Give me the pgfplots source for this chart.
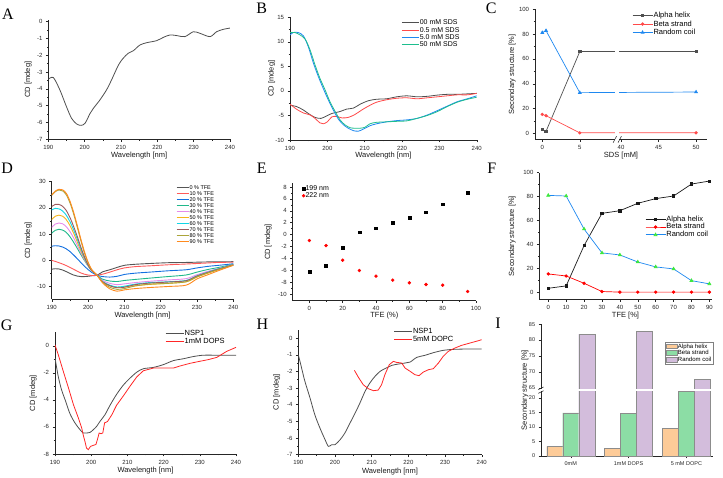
\documentclass[border=0pt]{standalone}
\usepackage{pgfplots}
\pgfplotsset{compat=1.18}
\usepackage{pgfplotstable}
\usepackage{fontspec}
\setmainfont{Liberation Sans}
\newfontfamily\letterfont{Liberation Serif}

\definecolor{cgray}{HTML}{4F4F4F}
\definecolor{cred}{HTML}{FF4A4A}
\definecolor{cblue}{HTML}{1E88F0}
\definecolor{cgreen}{HTML}{1DBE8E}
\definecolor{d0}{HTML}{555555}
\definecolor{d10}{HTML}{FF5A5A}
\definecolor{d20}{HTML}{1370E0}
\definecolor{d30}{HTML}{1FB88A}
\definecolor{d40}{HTML}{E58BEA}
\definecolor{d50}{HTML}{F6B41A}
\definecolor{d60}{HTML}{12D6E6}
\definecolor{d70}{HTML}{9C5B5E}
\definecolor{d80}{HTML}{ABA53A}
\definecolor{d90}{HTML}{FF8A1E}
\definecolor{calpha}{HTML}{FDCB98}
\definecolor{cbeta}{HTML}{8CDDA5}
\definecolor{crand}{HTML}{D3BDDC}
\definecolor{ctri}{HTML}{3EE83E}

\pgfplotsset{
  panel/.style={
    scale only axis, anchor=south west,
    axis x line*=bottom, axis y line*=left,
    axis line style={-, line width=0.5pt, black!85},
    tick align=outside, major tick length=2.4pt, minor tick length=1.3pt,
    every tick/.style={black!85, line width=0.4pt},
    tick label style={font=\fontsize{6}{6}\selectfont, black!85},
    label style={font=\fontsize{7.5}{8}\selectfont, black!90},
    /pgf/number format/assume math mode=true,
    legend cell align=left,
    legend style={draw=none, fill=none, anchor=north west, inner sep=0pt,
      font=\fontsize{7}{7}\selectfont,
      nodes={inner sep=0.5pt, text height=5pt, text depth=1.3pt}},
  },
  % label offsets from the axis lines, in pt
  labs/.style 2 args={
    xlabel style={at={([yshift=-#1pt]axis description cs:0.5,0)}, anchor=center},
    ylabel style={at={([xshift=-#2pt]axis description cs:0,0.5)}, anchor=center}},
  legline/.style={legend image code/.code={\draw[##1, line width=1pt] (0pt,0pt) -- (#1,0pt);}},
  legmark/.style={legend image code/.code={\draw[##1,mark repeat=2,mark phase=2] plot coordinates {(0pt,0pt) (10pt,0pt) (20pt,0pt)};}},
}

\pgfplotstableread{
x t0 t10 t20 t30 t40 t50 t60 t70 t80 t90
190 -3.5 -0.1 5.3 10.3 12.5 15.5 19.2 20.5 24.8 24.9
191 -3.3 -0.5 5.5 11.4 13.8 16.8 19.8 21.3 26.2 26.4
192 -3.4 -1.0 5.4 11.8 14.2 17.2 19.6 21.3 26.8 27.1
193 -3.8 -1.5 5.0 11.5 13.9 16.8 18.8 20.6 26.5 26.9
194 -4.4 -2.1 4.3 10.6 12.8 15.5 17.2 19.0 25.0 25.6
195 -5.1 -2.8 3.3 9.0 11.0 13.3 14.8 16.4 22.0 22.7
196 -5.7 -3.5 2.0 6.9 8.6 10.4 11.7 13.0 17.8 18.5
197 -6.1 -4.2 0.6 4.6 5.8 7.1 8.2 9.2 12.8 13.5
198 -6.3 -4.9 -0.9 2.2 2.9 3.7 4.5 5.1 7.6 8.2
199 -6.3 -5.4 -2.3 -0.1 0.2 0.6 1.0 1.3 2.8 3.3
200 -6.2 -5.7 -3.6 -2.2 -2.2 -2.0 -1.9 -1.8 -1.0 -0.7
201 -6.0 -5.9 -4.7 -4.0 -4.1 -4.0 -4.0 -4.0 -3.7 -3.6
202.5 -5.8 -5.8 -5.8 -5.8 -5.8 -5.8 -5.8 -5.8 -5.8 -5.8
204 -4.5 -5.4 -6.3 -7.3 -7.8 -8.3 -8.2 -8.3 -8.5 -8.7
206 -3.7 -4.6 -6.5 -8.0 -8.9 -9.8 -9.6 -9.8 -10.4 -11.0
208 -2.8 -3.7 -6.2 -8.2 -9.4 -10.5 -10.3 -10.6 -11.2 -11.9
210 -2.0 -3.0 -5.5 -7.8 -9.1 -10.2 -10.0 -10.4 -10.9 -11.4
213 -1.6 -2.5 -5.0 -7.4 -8.6 -9.8 -9.2 -9.4 -9.9 -10.9
217 -1.3 -2.2 -4.6 -6.9 -8.1 -9.3 -8.6 -8.8 -9.2 -10.5
222 -1.0 -1.8 -4.1 -6.3 -7.6 -8.9 -8.3 -8.4 -8.9 -10.1
227 -0.9 -1.5 -3.7 -5.7 -7.1 -8.3 -7.8 -7.9 -8.3 -9.6
230 -0.8 -1.3 -3.0 -4.6 -5.6 -6.5 -6.0 -6.1 -6.4 -7.2
233 -0.7 -1.1 -2.4 -3.6 -4.3 -5.0 -4.6 -4.7 -4.9 -5.6
236 -0.7 -0.9 -2.0 -2.8 -3.2 -3.6 -3.3 -3.4 -3.6 -4.0
240 -0.6 -0.8 -1.4 -1.6 -1.7 -1.9 -1.8 -1.8 -1.9 -2.0
}\tblD

\begin{document}
\begin{tikzpicture}[x=1pt,y=1pt]
\useasboundingbox (0pt,0pt) rectangle (723pt,478pt);

% panel letters
\begin{scope}[every node/.style={font=\letterfont\fontsize{16}{16}\selectfont}]
\node at (8pt,463.3pt) {A};
\node at (261.7pt,470pt) {B};
\node at (491.3pt,469.3pt) {C};
\node at (7.2pt,310pt) {D};
\node at (261.7pt,310pt) {E};
\node at (491.7pt,310pt) {F};
\node at (6.7pt,153pt) {G};
\node at (262.5pt,154pt) {H};
\node at (498pt,155pt) {I};
\end{scope}

% ---------- A ----------
\begin{axis}[panel, at={(48.3pt,338.7pt)}, width=181.7pt, height=119.3pt,
  labs={16}{20},
  xmin=190, xmax=240, ymin=-7, ymax=0.1,
  xtick={190,200,...,240}, minor x tick num=1,
  ytick={-7,-6,...,0}, minor y tick num=1,
  xlabel={Wavelength [nm]}, ylabel={CD [mdeg]}]
\addplot[cgray, line width=0.8pt, smooth] coordinates {
(190,-3.43)(191.4,-3.33)(193.2,-4.07)(195,-5.06)(196.4,-5.75)(197.8,-6.09)(199,-6.17)(200.1,-6.05)(201.5,-5.46)(202.4,-5.16)(204.2,-4.66)(206,-4.07)(207.4,-3.47)(209.3,-2.58)(210.6,-2.18)(212,-1.88)(213.4,-1.73)(215.2,-1.39)(217.1,-1.25)(219.8,-1.13)(221.7,-0.93)(223.5,-0.79)(225.4,-0.83)(227.6,-0.89)(229.9,-0.6)(231.7,-0.69)(234.5,-0.89)(236.3,-0.6)(238.1,-0.46)(240,-0.38)};
\end{axis}

% ---------- B ----------
\begin{axis}[panel, at={(290pt,338pt)}, width=186.7pt, height=122.7pt,
  labs={15.3}{18.3},
  xmin=190, xmax=240, ymin=-10, ymax=15,
  xtick={190,200,...,240}, minor x tick num=1,
  ytick={-10,-5,...,15}, minor y tick num=1,
  xlabel={Wavelength [nm]}, ylabel={CD [mdeg]},
  legline=17pt,
  legend style={at={(0.595,0.985)}}]
\addplot[cgray, line width=0.8pt, smooth] coordinates {
(190,-2.9)(191.8,-3.2)(193.6,-3.9)(194.9,-4.6)(196.7,-5.4)(198.3,-5.6)(199.8,-5.1)(201.2,-4.6)(203.4,-4.2)(205.2,-3.7)(207,-3.5)(208.8,-2.7)(211,-2.0)(213.2,-1.7)(215.9,-1.6)(218.6,-1.2)(221.3,-1.0)(224,-1.2)(226.8,-1.1)(229.5,-0.85)(232.1,-0.7)(234.8,-0.7)(237.5,-0.6)(240,-0.5)};
\addlegendentry{00 mM SDS}
\addplot[cred, line width=0.8pt, smooth] coordinates {
(190,-2.7)(191.8,-3.75)(193.6,-4.5)(195.4,-4.9)(196.7,-5.6)(198,-6.5)(198.9,-6.7)(200,-6.3)(201.2,-5.3)(202.5,-5.2)(203.9,-5.5)(205.6,-5.4)(207.4,-4.8)(209.2,-3.9)(211,-3.1)(213.2,-2.3)(215.9,-1.8)(218.6,-1.5)(221.3,-1.4)(224,-1.6)(226.8,-1.4)(229.5,-1.2)(232.1,-1.0)(234.8,-0.8)(237.5,-0.8)(240,-0.5)};
\addlegendentry{0.5 mM SDS}
\addplot[cblue, line width=0.8pt, smooth] coordinates {
(190,11.4)(190.9,11.9)(192.2,11.9)(193.6,11.2)(194.9,9.0)(196.3,5.6)(197.6,2.9)(198.9,0.5)(200.3,-1.9)(201.6,-3.9)(203,-5.8)(204.3,-6.9)(205.6,-7.6)(207,-8.1)(208.3,-8.2)(209.6,-7.8)(211.4,-7.1)(213.2,-6.7)(215.9,-6.3)(218.6,-6.05)(221.3,-5.9)(224,-5.6)(226.8,-4.9)(229.5,-4.0)(232.1,-3.1)(234.8,-2.2)(237.5,-1.6)(240,-1.0)};
\addlegendentry{5.0 mM SDS}
\addplot[cgreen, line width=0.8pt, smooth] coordinates {
(190,11.9)(191.3,11.9)(192.7,11.4)(194.1,10.5)(195.4,8.3)(196.7,5.3)(198,2.6)(199.4,0.2)(200.7,-2.2)(202.1,-4.2)(203.4,-5.9)(204.7,-6.9)(206.1,-7.5)(207.4,-7.6)(208.8,-7.6)(210.1,-7.4)(211.4,-6.7)(213.2,-6.4)(215.9,-6.3)(218.6,-6.2)(221.3,-6.1)(224,-5.6)(226.8,-5.0)(229.5,-4.2)(232.1,-3.2)(234.8,-2.3)(237.5,-1.7)(240,-1.3)};
\addlegendentry{50 mM SDS}
\end{axis}

% ---------- C ----------
\begin{axis}[panel, at={(535pt,338.7pt)}, width=172pt, height=130pt,
  labs={16}{22.7},
  xmin=-0.97, xmax=21.96, ymin=-4.8, ymax=100,
  x filter/.expression={x>30 ? x-29.5 : x},
  xtick={0,5,10.5,15.5,20.5}, xticklabels={0,5,40,45,50},
  ytick={0,20,...,100}, minor y tick num=1,
  xlabel={SDS [mM]}, ylabel={Secondary structure [\%]},
  clip=false, legmark,
  legend style={at={(0.564,0.985)}, font=\fontsize{7.5}{7.5}\selectfont,
    nodes={inner sep=0.6pt, text height=5.6pt, text depth=1.6pt}}]
\addplot[cgray, line width=0.7pt, mark=square*, mark size=1.2pt] coordinates {(0,3)(0.5,1.6)(5,65.9)(50,65.9)};
\addlegendentry{Alpha helix}
\addplot[cred, line width=0.7pt, mark=*, mark size=1.3pt] coordinates {(0,15.3)(0.5,14.2)(5,0.4)(50,0.4)};
\addlegendentry{Beta strand}
\addplot[cblue, line width=0.7pt, mark=triangle*, mark size=1.6pt] coordinates {(0,81.2)(0.5,82.8)(5,32.8)(50,33.3)};
\addlegendentry{Random coil}
\fill[white] (axis cs:9.75,-6) rectangle (axis cs:10.25,101);
\draw[black!85, line width=0.5pt] (axis cs:9.45,-7.5) -- (axis cs:9.9,-2.3);
\draw[black!85, line width=0.5pt] (axis cs:10.1,-7.5) -- (axis cs:10.55,-2.3);
\end{axis}

% ---------- D ----------
\begin{axis}[panel, at={(51.7pt,178.7pt)}, width=181.6pt, height=117.6pt,
  labs={16}{23.4},
  xmin=190, xmax=240, ymin=-15, ymax=30,
  xtick={190,200,...,240}, minor x tick num=1,
  ytick={-10,0,...,30}, minor y tick num=1,
  xlabel={Wavelength [nm]}, ylabel={CD [mdeg]},
  legline=12pt,
  legend style={at={(0.684,0.975)}, font=\fontsize{5.5}{5.5}\selectfont,
    nodes={inner sep=0.4pt, text height=4pt, text depth=1.2pt}}]
\addplot[d0, line width=0.9pt, smooth] table[x=x, y=t0] {\tblD};
\addlegendentry{0 \% TFE}
\addplot[d10, line width=0.9pt, smooth] table[x=x, y=t10] {\tblD};
\addlegendentry{10 \% TFE}
\addplot[d20, line width=0.9pt, smooth] table[x=x, y=t20] {\tblD};
\addlegendentry{20 \% TFE}
\addplot[d30, line width=0.9pt, smooth] table[x=x, y=t30] {\tblD};
\addlegendentry{30 \% TFE}
\addplot[d40, line width=0.9pt, smooth] table[x=x, y=t40] {\tblD};
\addlegendentry{40 \% TFE}
\addplot[d50, line width=0.9pt, smooth] table[x=x, y=t50] {\tblD};
\addlegendentry{50 \% TFE}
\addplot[d60, line width=0.9pt, smooth] table[x=x, y=t60] {\tblD};
\addlegendentry{60 \% TFE}
\addplot[d70, line width=0.9pt, smooth] table[x=x, y=t70] {\tblD};
\addlegendentry{70 \% TFE}
\addplot[d80, line width=0.9pt, smooth] table[x=x, y=t80] {\tblD};
\addlegendentry{80 \% TFE}
\addplot[d90, line width=0.9pt, smooth] table[x=x, y=t90] {\tblD};
\addlegendentry{90 \% TFE}
\end{axis}

% ---------- E ----------
\begin{axis}[panel, at={(292.7pt,177.3pt)}, width=183.3pt, height=117.3pt,
  labs={14.6}{24.4},
  xmin=-10, xmax=100, ymin=-11.1, ymax=8.6,
  xtick={0,20,...,100}, minor x tick num=1,
  ytick={-10,-8,...,8}, minor y tick num=1,
  xlabel={TFE (\%)}, ylabel={CD [mdeg]},
  legend image code/.code={\draw[#1,mark repeat=2,mark phase=2] plot coordinates {(0pt,0pt) (4pt,0pt) (8pt,0pt)};},
  legend style={at={(0.05,0.99)}}]
\addplot[only marks, mark=square*, mark size=1.4pt, black] coordinates {
(0,-6.25)(10,-5.19)(20,-2.23)(30,0.40)(40,1.07)(50,1.96)(60,2.86)(70,3.75)(80,5.09)(95,7.1)};
\addlegendentry{199 nm}
\addplot[only marks, mark=*, mark size=1.5pt, red] coordinates {
(0,-1.0)(10,-1.84)(20,-4.3)(30,-6.03)(40,-6.98)(50,-7.65)(60,-8.1)(70,-8.38)(80,-8.49)(95,-9.55)};
\addlegendentry{222 nm}
\end{axis}

% ---------- F ----------
\begin{axis}[panel, at={(539.3pt,178.7pt)}, width=172.4pt, height=126.6pt,
  labs={16}{27},
  xmin=-5, xmax=91.3, ymin=-5.9, ymax=100,
  xtick={0,10,...,90},
  ytick={0,20,...,100}, minor y tick num=1,
  xlabel={TFE [\%]}, ylabel={Secondary structure [\%]},
  legmark,
  legend style={at={(0.613,0.665)}, font=\fontsize{7.5}{7.5}\selectfont,
    nodes={inner sep=0.5pt, text height=5.3pt, text depth=1.5pt}}]
\addplot[black!90, line width=0.7pt, mark=square*, mark size=1.2pt] coordinates {
(0,3.3)(10,5.3)(20,39)(30,66)(40,68.2)(50,74.4)(60,78.3)(70,80.5)(80,90.5)(90,93)};
\addlegendentry{Alpha helix}
\addplot[red, line width=0.7pt, mark=*, mark size=1.3pt] coordinates {
(0,15.3)(10,13.6)(20,7.5)(30,0.6)(40,0.1)(50,0.1)(60,0.1)(70,0.1)(80,0.1)(90,0.1)};
\addlegendentry{Beta strand}
\addplot[cblue, line width=0.7pt, mark=triangle*, mark size=1.7pt, mark options={fill=ctri, draw=ctri}] coordinates {
(0,81)(10,80.5)(20,52.9)(30,32.9)(40,31.2)(50,25.3)(60,21.2)(70,19.5)(80,9.7)(90,7)};
\addlegendentry{Random coil}
\end{axis}

% ---------- G ----------
\begin{axis}[panel, at={(55pt,24pt)}, width=181pt, height=121.8pt,
  labs={16.7}{21.7},
  xmin=190, xmax=240, ymin=-8, ymax=1,
  xtick={190,200,...,240}, minor x tick num=1,
  ytick={-8,-6,...,0}, minor y tick num=1,
  xlabel={Wavelength [nm]}, ylabel={CD [mdeg]},
  legline=18pt,
  legend style={at={(0.608,1.02)}, font=\fontsize{7.5}{7.5}\selectfont,
    nodes={inner sep=0.5pt, text height=5.3pt, text depth=1.5pt}}]
\addplot[cgray, line width=0.8pt, smooth] coordinates {
(190,-0.9)(190.9,-2.27)(191.8,-3.25)(192.8,-4.0)(194.1,-5.0)(195.5,-5.7)(196.9,-6.2)(197.8,-6.45)(198.6,-6.45)(199.7,-6.4)(200.6,-6.2)(201.5,-5.96)(202.4,-5.6)(203.8,-5.1)(205.2,-4.4)(207,-3.6)(208.9,-2.9)(210.7,-2.4)(212.6,-1.95)(214.4,-1.7)(217.2,-1.6)(219.9,-1.4)(222.7,-1.1)(225.5,-0.96)(228.2,-0.8)(231,-0.7)(234.7,-0.7)(237.4,-0.7)(240,-0.7)};
\addlegendentry{NSP1}
\addplot[red!85, line width=0.8pt] coordinates {
(190,0.07)(190.9,-0.66)(192.3,-1.9)(193.7,-3.1)(195.1,-4.36)(196.4,-5.3)(197.4,-6.1)(197.8,-6.6)(198.3,-7.1)(198.7,-7.56)(199.2,-7.68)(199.8,-7.44)(200.6,-7.36)(201.3,-7.3)(201.7,-6.95)(202.2,-6.45)(202.7,-6.5)(203.2,-6.45)(203.7,-5.7)(204.5,-5.6)(205.7,-5.1)(207,-4.4)(208.9,-3.7)(210.7,-3.0)(212.6,-2.3)(214.4,-1.85)(217.2,-1.65)(219.9,-1.65)(222.7,-1.65)(224.5,-1.5)(227.3,-1.3)(230,-1.15)(232.3,-1.03)(234.7,-0.86)(237.4,-0.42)(240,-0.12)};
\addlegendentry{1mM DOPS}
\end{axis}

% ---------- H ----------
\begin{axis}[panel, at={(298.3pt,23.3pt)}, width=183.4pt, height=125pt,
  labs={17.3}{21.6},
  xmin=190, xmax=240, ymin=-7, ymax=0.5,
  xtick={190,200,...,240}, minor x tick num=1,
  ytick={-7,-6,...,0}, minor y tick num=1,
  xlabel={Wavelength [nm]}, ylabel={CD [mdeg]},
  legline=18pt,
  legend style={at={(0.518,1.015)}, font=\fontsize{7.5}{7.5}\selectfont,
    nodes={inner sep=0.5pt, text height=5.3pt, text depth=1.5pt}}]
\addplot[cgray, line width=0.8pt, smooth] coordinates {
(190,-1.0)(190.9,-1.8)(191.8,-2.6)(193.2,-3.6)(194.5,-4.6)(195.9,-5.4)(197.3,-6.1)(198.2,-6.5)(199.1,-6.4)(200,-6.4)(201.4,-6.1)(202.7,-5.7)(204.1,-5.1)(205.5,-4.5)(206.8,-3.9)(208.2,-3.2)(209.5,-2.7)(210.9,-2.3)(212.3,-2.0)(213.6,-1.84)(215.5,-1.64)(217.3,-1.56)(219.1,-1.5)(220.5,-1.44)(222.3,-1.16)(224.5,-1.04)(226.8,-0.88)(229.5,-0.74)(232.3,-0.68)(235.9,-0.66)(240,-0.66)};
\addlegendentry{NSP1}
\addplot[red!85, line width=0.8pt] coordinates {
(205.3,-1.94)(206.4,-2.36)(207.7,-2.8)(209.1,-3.04)(210.5,-3.16)(211.8,-3.12)(212.7,-2.8)(213.6,-2.2)(214.8,-1.6)(215.9,-1.4)(216.8,-1.46)(218.2,-1.5)(219.1,-1.8)(220.5,-2.0)(221.8,-2.2)(222.9,-2.26)(224.1,-2.04)(225.5,-1.9)(226.8,-1.84)(228.2,-1.5)(229.5,-1.1)(230.9,-0.8)(232.7,-0.6)(234.5,-0.44)(236.8,-0.3)(239.1,-0.16)(240,-0.1)};
\addlegendentry{5mM DOPC}
\end{axis}

% ---------- I ----------
\begin{axis}[panel, at={(541pt,22pt)}, width=172pt, height=132pt,
  labs={16}{16},
  ybar=0pt, bar width=0.277,
  xmin=-0.514, xmax=2.46, ymin=0, ymax=45.5,
  y filter/.expression={y>40 ? 23.45+(y-65)*1.1 : y},
  xtick={0,1,2}, xticklabels={0mM,1mM DOPS,5 mM DOPC},
  ytick={0,5,10,15,20,23.45,28.95,34.45,39.95,45.45},
  yticklabels={0,5,10,15,20,65,70,75,80,85},
  ylabel={Secondary structure [\%]},
  tick label style={font=\fontsize{5.5}{5.5}\selectfont},
  clip=false,
  legend image code/.code={\draw[#1] (0pt,-2.2pt) rectangle (11pt,2.6pt);},
  legend style={anchor=north east, at={(1,0.864)}, draw=black!50, fill=white,
    inner sep=1pt, font=\fontsize{6}{6}\selectfont,
    nodes={inner sep=0.5pt, text height=4.4pt, text depth=1.2pt}}]
\addplot[fill=calpha, draw=black!45] coordinates {(0,3.3)(1,2.7)(2,9.6)};
\addlegendentry{Alpha helix}
\addplot[fill=cbeta, draw=black!45] coordinates {(0,14.9)(1,14.7)(2,22.3)};
\addlegendentry{Beta strand}
\addplot[fill=crand, draw=black!45] coordinates {(0,81.9)(1,82.7)(2,67.6)};
\addlegendentry{Random coil}
\fill[white] (axis cs:-0.514,22.4) rectangle (axis cs:2.42,23.05);
\draw[black!85, line width=0.5pt] (axis cs:-0.56,21.6) -- (axis cs:-0.47,22.5);
\draw[black!85, line width=0.5pt] (axis cs:-0.56,22.9) -- (axis cs:-0.47,23.8);
\end{axis}
\end{tikzpicture}
\end{document}
